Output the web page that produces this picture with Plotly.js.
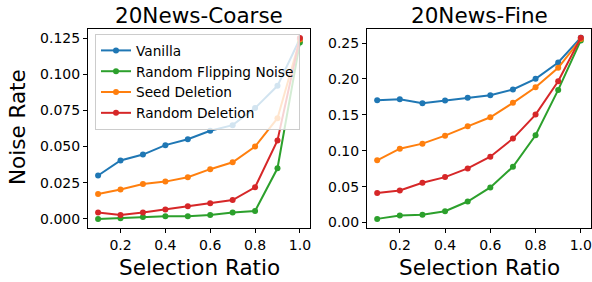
<!DOCTYPE html>
<html>
<head>
<meta charset="utf-8">
<script src="https://cdn.plot.ly/plotly-3.0.1.min.js"></script>
<style>html,body{margin:0;padding:0;background:#fff;}#chart{width:592px;height:282px;}</style>
</head>
<body>
<div id="chart"></div>
<script>
const ratios = [0.1, 0.2, 0.3, 0.4, 0.5, 0.6, 0.7, 0.8, 0.9, 1.0];
const seriesNames = ["Vanilla", "Random Flipping Noise", "Seed Deletion", "Random Deletion"];
const seriesColors = ["#1f77b4", "#2ca02c", "#ff7f0e", "#d62728"];

// 20News-Coarse
const coarseVanilla = [0.030, 0.0404, 0.0445, 0.0510, 0.0551, 0.0609, 0.0648, 0.0766, 0.0920, 0.1245];
const coarseFlip    = [0.0000, 0.0005, 0.0014, 0.0018, 0.0018, 0.0028, 0.0044, 0.0055, 0.0350, 0.1220];
const coarseSeed    = [0.0173, 0.0203, 0.0242, 0.0258, 0.0288, 0.0344, 0.0392, 0.0500, 0.0696, 0.1240];
const coarseRandDel = [0.0044, 0.0028, 0.0044, 0.0065, 0.0088, 0.0108, 0.0131, 0.0219, 0.0542, 0.1250];

// 20News-Fine
const fineVanilla = [0.1704, 0.1718, 0.1662, 0.1700, 0.1737, 0.1774, 0.1853, 0.2002, 0.2230, 0.2575];
const fineFlip    = [0.0051, 0.0098, 0.0107, 0.0158, 0.0293, 0.0489, 0.0777, 0.1215, 0.1848, 0.2537];
const fineSeed    = [0.0866, 0.1029, 0.1099, 0.1210, 0.1340, 0.1466, 0.1667, 0.1885, 0.2156, 0.2556];
const fineRandDel = [0.0410, 0.0447, 0.0554, 0.0633, 0.0754, 0.0917, 0.1169, 0.1504, 0.1969, 0.2575];

const xTicks = [0.2, 0.4, 0.6, 0.8, 1.0];
const xTickText = ["0.2", "0.4", "0.6", "0.8", "1.0"];
const coarseTicks = [0.000, 0.025, 0.050, 0.075, 0.100, 0.125];
const coarseTickText = ["0.000", "0.025", "0.050", "0.075", "0.100", "0.125"];
const fineTicks = [0.00, 0.05, 0.10, 0.15, 0.20, 0.25];
const fineTickText = ["0.00", "0.05", "0.10", "0.15", "0.20", "0.25"];

const titles = ["20News-Coarse", "20News-Fine"];
const xTitle = "Selection Ratio";
const yTitle = "Noise Rate";

const coarse = [coarseVanilla, coarseFlip, coarseSeed, coarseRandDel];
const fine = [fineVanilla, fineFlip, fineSeed, fineRandDel];

const FONT = "DejaVu Sans, sans-serif";
const traces = [];
coarse.forEach((ys, i) => {
  traces.push({x: ratios, y: ys, name: seriesNames[i], type: "scatter", mode: "lines+markers",
    line: {color: seriesColors[i], width: 2}, marker: {color: seriesColors[i], size: 6},
    xaxis: "x", yaxis: "y", showlegend: true});
});
fine.forEach((ys, i) => {
  traces.push({x: ratios, y: ys, name: seriesNames[i], type: "scatter", mode: "lines+markers",
    line: {color: seriesColors[i], width: 2}, marker: {color: seriesColors[i], size: 6},
    xaxis: "x2", yaxis: "y2", showlegend: false});
});

const axBase = {showline: true, mirror: true, linecolor: "#000", linewidth: 1, ticks: "outside",
  ticklen: 4, tickwidth: 1, tickcolor: "#000", showgrid: false, zeroline: false,
  tickfont: {family: FONT, size: 14, color: "#000"}, automargin: false};

const ydom = [54/282, 253/282];
const layout = {
  width: 592, height: 282,
  margin: {l: 0, r: 0, t: 0, b: 0},
  paper_bgcolor: "#fff", plot_bgcolor: "#fff",
  font: {family: FONT, color: "#000"},
  xaxis: Object.assign({}, axBase, {domain: [88/592, 310/592], range: [0.055, 1.045],
    tickvals: xTicks, ticktext: xTickText, anchor: "y"}),
  yaxis: Object.assign({}, axBase, {domain: ydom, range: [-0.00625, 0.13125],
    tickvals: coarseTicks, ticktext: coarseTickText, anchor: "x"}),
  xaxis2: Object.assign({}, axBase, {domain: [367/592, 591/592], range: [0.055, 1.045],
    tickvals: xTicks, ticktext: xTickText, anchor: "y2"}),
  yaxis2: Object.assign({}, axBase, {domain: ydom, range: [-0.0076, 0.2696],
    tickvals: fineTicks, ticktext: fineTickText, anchor: "x2"}),
  legend: {x: 95/592, y: (282-34)/282, xanchor: "left", yanchor: "top",
    bgcolor: "rgba(255,255,255,0.8)", bordercolor: "#cccccc", borderwidth: 1,
    font: {family: FONT, size: 13.7, color: "#000"}},
  annotations: [
    {text: titles[0], x: 199/592, y: 1 - 15/282, xref: "paper", yref: "paper", showarrow: false,
      xanchor: "center", yanchor: "middle", font: {family: FONT, size: 21.5, color: "#000"}},
    {text: titles[1], x: 479/592, y: 1 - 15/282, xref: "paper", yref: "paper", showarrow: false,
      xanchor: "center", yanchor: "middle", font: {family: FONT, size: 21.5, color: "#000"}},
    {text: xTitle, x: 199/592, y: 1 - 267/282, xref: "paper", yref: "paper", showarrow: false,
      xanchor: "center", yanchor: "middle", font: {family: FONT, size: 21.5, color: "#000"}},
    {text: xTitle, x: 479/592, y: 1 - 267/282, xref: "paper", yref: "paper", showarrow: false,
      xanchor: "center", yanchor: "middle", font: {family: FONT, size: 21.5, color: "#000"}},
    {text: yTitle, x: 17/592, y: 1 - 127/282, xref: "paper", yref: "paper", showarrow: false,
      textangle: -90, xanchor: "center", yanchor: "middle", font: {family: FONT, size: 21.5, color: "#000"}}
  ]
};

Plotly.newPlot("chart", traces, layout, {staticPlot: true, displayModeBar: false});
</script>
</body>
</html>
